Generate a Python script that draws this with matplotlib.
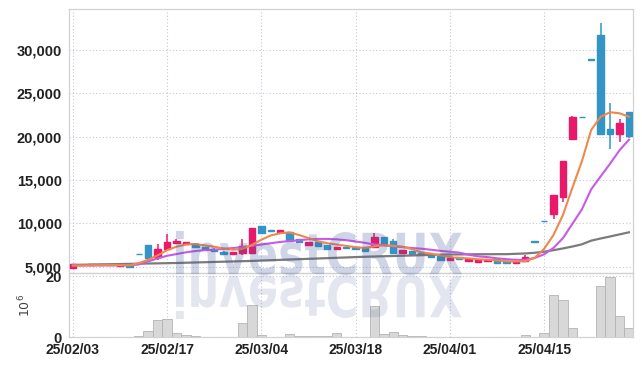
import numpy as np
import matplotlib
matplotlib.use('Agg')
import matplotlib.pyplot as plt
from matplotlib import font_manager
from matplotlib.font_manager import FontProperties
from matplotlib.textpath import TextPath
from matplotlib.patches import PathPatch
from matplotlib.transforms import Affine2D
from matplotlib.ticker import FuncFormatter

# daily candles, trading days from 25/02/03
opens = [4820, 5150, 5180, 5250, 5180, 5100, 5150, 6430, 7500, 6140,
         7030, 7690, 7620, 7650, 7230, 7070, 6720, 6460, 6610, 6610,
         9690, 9230, 9050, 9030, 8190, 7500, 7800, 7500, 7000, 7300,
         7230, 7300, 7300, 8420, 8000, 6630, 6800, 6620, 6380, 6240,
         5780, 6140, 5680, 5550, 5680, 5840, 5690, 5450, 5700, 7910,
         10310, 11100, 13000, 19750, 22250, 28910, 31700, 20900, 20300, 22800]
highs = [5270, 5170, 5260, 5250, 5180, 5150, 5150, 6440, 7550, 7580,
         8730, 8190, 7880, 7770, 7300, 7100, 6750, 6720, 8150, 9420,
         9700, 9250, 9230, 9050, 8200, 7880, 7800, 7500, 7300, 7300,
         7230, 7300, 8840, 8450, 8200, 6880, 6800, 6620, 6420, 6260,
         6030, 6140, 5880, 5760, 5900, 5840, 5690, 5690, 6300, 7910,
         10310, 13260, 17200, 22350, 22250, 28910, 33100, 23860, 22050, 22800]
lows = [4750, 5140, 5180, 5170, 5150, 5100, 4900, 6400, 5800, 5760,
        7030, 7690, 7500, 7190, 6950, 6770, 6460, 6420, 6300, 6600,
        8850, 9150, 9030, 7990, 7700, 7500, 7420, 7000, 7000, 7110,
        7050, 6840, 7300, 7600, 6630, 6630, 6420, 6420, 6150, 5800,
        5760, 5900, 5650, 5530, 5600, 5450, 5380, 5450, 5690, 7900,
        10300, 10500, 12420, 19700, 22240, 28900, 20200, 18580, 19350, 19900]
closes = [5250, 5160, 5250, 5180, 5160, 5150, 4950, 6420, 5960, 7030,
          7880, 7960, 7880, 7230, 7000, 6800, 6460, 6680, 7380, 9420,
          8850, 9150, 9200, 8000, 7880, 7880, 7420, 7000, 7300, 7110,
          7050, 6840, 8420, 7600, 6630, 6880, 6420, 6420, 6150, 5800,
          6030, 5900, 5880, 5760, 5800, 5450, 5400, 5690, 6140, 7900,
          10300, 13260, 17200, 22300, 22240, 28900, 20300, 20300, 21550, 20100]
# volume in millions of shares
volume = [0.02, 0.02, 0.02, 0.02, 0.02, 0.02, 0.02, 0.3, 2.2, 5.5,
          6.0, 1.3, 0.9, 0.3, 0.2, 0.2, 0.05, 0.2, 4.7, 10.7,
          0.9, 0.2, 0.2, 1.1, 0.4, 0.4, 0.4, 0.4, 1.4, 0.2,
          0.2, 0.2, 10.3, 1.1, 1.8, 0.7, 0.3, 0.3, 0.05, 0.05,
          0.05, 0.05, 0.05, 0.05, 0.2, 0.2, 0.2, 0.2, 0.8, 0.2,
          1.4, 13.7, 12.1, 3.1, 0.0, 0.2, 16.7, 19.6, 7.1, 3.1]
# moving averages as drawn
ma5 = [5120, 5130, 5150, 5170, 5180, 5170, 5150, 5400, 5800, 6300,
       6900, 7300, 7550, 7600, 7450, 7300, 7100, 6950, 7050, 7500,
       8100, 8600, 8850, 8950, 8650, 8300, 7950, 7700, 7550, 7400,
       7250, 7150, 7350, 7500, 7400, 7300, 7000, 6650, 6500, 6300,
       6100, 6000, 5950, 5850, 5800, 5720, 5620, 5600, 5620, 6000,
       7050, 8650, 10960, 14100, 17120, 20780, 22300, 22820, 22700, 22300]
ma10 = [5150, 5150, 5150, 5150, 5150, 5150, 5160, 5250, 5600, 5950,
        6250, 6450, 6650, 6800, 6900, 6950, 7050, 7150, 7250, 7400,
        7550, 7700, 7850, 7950, 8050, 8150, 8200, 8200, 8150, 8050,
        7900, 7750, 7550, 7450, 7350, 7250, 7150, 7070, 6950, 6820,
        6720, 6620, 6370, 6190, 6100, 5960, 5860, 5790, 5790, 6000,
        6420, 7160, 8290, 9940, 11590, 13930, 15420, 16880, 18430, 19650]
ma_long = [5200, 5220, 5240, 5260, 5280, 5300, 5320, 5340, 5360, 5380,
           5400, 5420, 5450, 5480, 5510, 5540, 5570, 5600, 5630, 5660,
           5700, 5740, 5780, 5820, 5860, 5900, 5940, 5980, 6020, 6060,
           6100, 6140, 6170, 6200, 6230, 6260, 6290, 6320, 6350, 6380,
           6400, 6410, 6420, 6430, 6430, 6440, 6440, 6480, 6520, 6600,
           6720, 6900, 7100, 7320, 7570, 8000, 8250, 8480, 8720, 8960]

tick_pos = [0, 10, 20, 30, 40, 50]
tick_dates = ['25/02/03', '25/02/17', '25/03/04', '25/03/18', '25/04/01', '25/04/15']
price_ticks = [5000, 10000, 15000, 20000, 25000, 30000]

RED = '#e8196a'
BLUE = '#3394c6'
GRID = '#c3c9dc'
SPINE = '#d2d2d2'

names = {f.name for f in font_manager.fontManager.ttflist}
tick_font = 'Liberation Sans Narrow' if 'Liberation Sans Narrow' in names else 'Liberation Sans'

W, H = 642, 366
fig = plt.figure(figsize=(W / 100, H / 100), dpi=100)
fig.patch.set_facecolor('white')
ax = fig.add_axes([69 / W, 1 - 272.7 / H, 563.7 / W, 263.4 / H])
axv = fig.add_axes([69 / W, 1 - 337.3 / H, 563.7 / W, 64.6 / H], sharex=ax)

x = np.arange(len(closes))
o = np.array(opens)
c = np.array(closes)
colors = np.where(c >= o, RED, BLUE)

# candles
ax.vlines(x, lows, highs, colors=colors, lw=1.1, zorder=2)
ax.bar(x, np.abs(c - o), bottom=np.minimum(o, c), width=0.68,
       color=colors, edgecolor=colors, lw=1.0, zorder=3)

# moving averages
ax.plot(x, ma_long, color='#7b7b7b', lw=1.6, zorder=4)
ax.plot(x, ma10, color='#c85ae8', lw=1.5, zorder=4)
ax.plot(x, ma5, color='#f0874b', lw=1.5, zorder=4)

ax.set_xlim(-0.4, 59.4)
ax.set_ylim(4300, 34700)
ax.set_yticks(price_ticks)
ax.yaxis.set_major_formatter(FuncFormatter(lambda v, p: f'{v:,.0f}'))
ax.set_xticks(tick_pos)
ax.tick_params(axis='x', labelbottom=False, length=0)
ax.tick_params(axis='y', length=0, pad=5, labelsize=10.5, labelcolor='#222222')

# volume
axv.bar(x, volume, width=1.0, color='#d8d8d8', edgecolor='#b3b3b3', lw=0.6, zorder=2)
axv.set_ylim(0, 21.1)
axv.set_yticks([0, 20])
axv.set_xticks(tick_pos)
axv.set_xticklabels(tick_dates)
axv.tick_params(axis='x', length=0, pad=4, labelsize=10, labelcolor='#222222')
axv.tick_params(axis='y', length=0, pad=5, labelsize=10.5, labelcolor='#222222')
axv.set_ylabel('$10^6$', fontsize=9, color='#444444')
axv.yaxis.set_label_coords(-0.064, 0.5)

for a in (ax, axv):
    a.set_facecolor('none')
    a.grid(True, ls=(0, (1, 2)), color=GRID, lw=0.8)
    a.set_axisbelow(True)
    for s in a.spines.values():
        s.set_color(SPINE)
        s.set_linewidth(0.9)
    for lab in a.get_xticklabels() + a.get_yticklabels():
        lab.set_fontfamily(tick_font)
        lab.set_fontweight('bold')

# watermark and its reflection
fp = FontProperties(family='DejaVu Sans', weight='bold')
tp = TextPath((0, 0), 'investCRUX', size=100, prop=fp)
ext = tp.get_extents()
sx = (462 - 176) / ext.width
sy = (275 - 231) / ext.height
base = H - 275
main_tr = Affine2D().translate(-ext.x0, -ext.y0).scale(sx, sy).translate(176, base)
refl_tr = Affine2D().translate(-ext.x0, -ext.y0).scale(sx, -sy).translate(176, base)
fig.add_artist(PathPatch(tp, transform=main_tr, facecolor=(0.27, 0.35, 0.6),
                         alpha=0.25, lw=0, zorder=5))
fig.add_artist(PathPatch(tp, transform=refl_tr, facecolor=(0.27, 0.35, 0.6),
                         alpha=0.15, lw=0, zorder=5))

fig.savefig('out.png', dpi=100, facecolor='white')
